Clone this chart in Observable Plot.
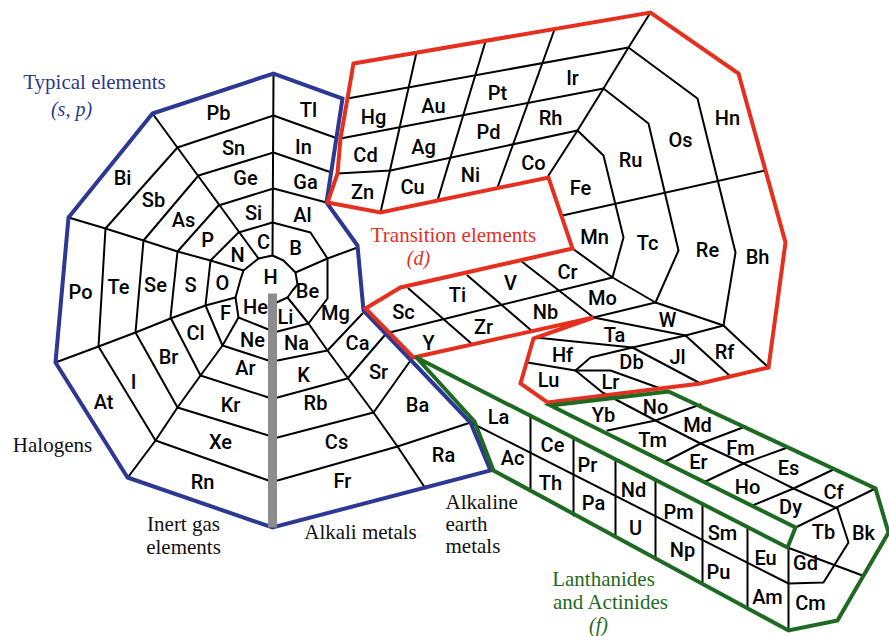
<!DOCTYPE html>
<html><head><meta charset="utf-8">
<script src="https://cdn.jsdelivr.net/npm/d3@7"></script>
<script src="https://cdn.jsdelivr.net/npm/@observablehq/plot@0.6"></script>
<style>body{margin:0;background:#fff}#chart svg{display:block}</style>
</head><body><div id="chart"></div>
<script>
// ---- element symbols and where each sits in the spiral (picture coordinates) ----
const symbols = ["H","He","Li","Be","B","C","N","O","F","Ne","Na","Mg","Al","Si","P","S","Cl","Ar","K","Ca","Ga","Ge","As","Se","Br","Kr","Rb","Sr","In","Sn","Sb","Te","I","Xe","Cs","Ba","Tl","Pb","Bi","Po","At","Rn","Fr","Ra",
"Hg","Au","Pt","Ir","Cd","Ag","Pd","Rh","Zn","Cu","Ni","Co","Fe","Ru","Os","Hn","Mn","Tc","Re","Bh","Sc","Ti","V","Cr","Y","Zr","Nb","Mo","Hf","Ta","W","Rf","Lu","Lr","Db","Jl",
"La","Ce","Pr","Nd","Pm","Sm","Eu","Gd","Tb","Dy","Ho","Er","Tm","Yb","Ac","Th","Pa","U","Np","Pu","Am","Cm","Bk","Cf","Es","Fm","Md","No"];
const symbolX = [270,255,285,307,295,263,237,222,225,252,296,335,302,253,207,190,195,245,303,357,305,245,183,155,168,230,315,378,303,233,153,118,133,220,336,417,308,218,122,80,103,202,342,443,
373,433,497,572,365,423,488,550,362,412,470,533,580,630,680,727,594,647,707,757,403,457,510,567,428,483,545,602,562,614,667,724,548,610,631,677,
498,552,587,633,678,722,765,805,823,790,747,698,652,603,512,550,593,635,682,718,767,810,863,833,788,740,697,655];
const symbolY = [277,307,317,291,248,242,255,283,313,340,343,313,215,213,240,285,333,368,375,343,182,178,220,285,357,405,403,372,147,148,200,287,382,442,442,405,110,113,178,292,402,482,481,455,
117,106,93,78,155,147,132,118,192,187,175,163,188,160,140,118,237,243,250,257,312,295,283,272,343,327,312,298,355,335,320,352,380,382,362,357,
417,445,465,490,512,533,558,563,532,507,487,462,440,415,458,483,503,528,550,572,597,603,533,492,468,448,425,407];

// ---- cell boundary polylines ----
const cellLines = [
  // typical elements: period rings
  [[276,302],[287,297],[292,290],[297,284],[295,272],[283,260],[272,255],[258,258],[243,270],[240,279],[235,297],[238,317],[268,329]],
  [[277,331],[308,323],[327,298],[327,258],[310,232],[272,222],[238,232],[210,260],[205,305],[222,345],[268,360]],
  [[277,360],[327,350],[362,313]],
  [[326,202],[273,188],[218,205],[177,251],[170,317],[200,375],[268,397]],
  [[277,397],[347,378],[384,335]],
  [[331,172],[273,152],[198,175],[143,240],[135,332],[177,407],[268,435]],
  [[277,437],[373,412],[410,360]],
  [[337,138],[273,115],[177,147],[105,228],[98,346],[155,440],[268,480]],
  [[277,480],[397,446],[470,422]],
  // typical elements: group separators
  [[272,255],[273,73]],
  [[258,258],[152,113]],
  [[243,270],[210,260],[177,251],[143,240],[105,228],[68,217]],
  [[235,297],[205,305],[170,318],[135,332],[98,346],[55,362]],
  [[238,317],[222,345],[200,375],[177,407],[155,440],[128,476]],
  [[287,297],[308,323],[327,350],[347,377],[373,412],[397,446],[425,488]],
  [[295,272],[327,258],[357,247]],
  // transition elements
  [[347,98],[628,47]],
  [[340,138],[603,88]],
  [[337,173],[390,170],[577,130]],
  [[380,212],[416,52]],
  [[437,200],[485,41]],
  [[497,187],[554,29]],
  [[548,175],[577,130],[603,88],[628,47],[650,12]],
  [[577,130],[603,155],[623,237],[612,277]],
  [[603,88],[648,123],[678,250],[655,302]],
  [[628,47],[697,98],[735,252],[723,325]],
  [[562,215],[765,170]],
  [[572,248],[612,277],[655,302],[723,325],[768,367]],
  [[389,332],[612,277]],
  [[408,288],[472,344]],
  [[467,275],[532,331]],
  [[520,260],[593,317]],
  [[593,317],[655,302]],
  [[593,317],[685,335],[723,325]],
  [[535,337],[632,347],[685,335]],
  [[575,370],[590,357],[632,347]],
  [[527,362],[575,370],[610,370],[660,388]],
  [[632,347],[700,383]],
  [[685,335],[730,376]],
  [[575,370],[602,392],[655,420],[700,443],[743,463],[793,488],[837,508]],
  // lanthanides and actinides
  [[607,430],[655,420],[700,404]],
  [[665,461],[700,443],[745,426]],
  [[705,481],[743,463],[787,447]],
  [[752,505],[793,488],[833,469]],
  [[795,527],[875,488]],
  [[837,508],[848,542],[823,582],[788,583]],
  [[787,547],[862,575]],
  [[470,422],[788,583]],
  [[530,416],[530,491]],
  [[573,438],[573,515]],
  [[615,460],[615,537]],
  [[655,480],[655,559]],
  [[702,504],[702,584]],
  [[747,527],[747,608]],
  [[788,547],[788,630]]
];

// ---- block outlines ----
const typicalOutline = [[127,477],[55,362],[68,217],[152,113],[273,73],[342,98],[326,202],[357,245],[363,310],[470,422],[490,470],[272,527],[127,477]];
const transitionOutline = [[327,202],[337,173],[340,138],[347,98],[353,63],[650,12],[738,73],[785,242],[768,367],[700,383],[547,402],[520,383],[533,338],[593,317],[413,357],[365,308],[400,287],[572,248],[548,177],[380,212],[327,202]];
const innerOutline = [[416,357],[787,547],[795,527],[550,405],[668,391],[875,488],[888,532],[837,620],[788,630],[493,470],[474,421],[416,357]];
const inertBar = [[272,293],[272,527]];

// ---- annotation texts ----
const noteText  = ["Typical elements","(s, p)","Transition elements","(d)","Lanthanides","and Actinides","(f)","Halogens","Inert gas","elements","Alkali metals","Alkaline","earth","metals"];
const noteX     = [94,71,453,418,603,610,598,52,183,183,360,445,445,445];
const noteY     = [82,109,235,258,579,602,625,445,524,547,532,502,524,546];
const noteBlock = ["typical","typical","transition","transition","inner","inner","inner","none","none","none","none","none","none","none"];
const noteItalic= [false,true,false,true,false,false,true,false,false,false,false,false,false,false];
const noteAnchor= ["middle","middle","middle","middle","middle","middle","middle","middle","middle","middle","middle","start","start","start"];

// ---- build ----
const BLUE = "#2c3891", RED = "#e5301f", GREEN = "#1e6a22";
const blockColor = {typical: BLUE, transition: RED, inner: GREEN, none: "#111"};

const elements = symbols.map((s,i)=>({s, x: symbolX[i], y: symbolY[i]}));
const lineRows = cellLines.flatMap((pts,i)=>pts.map(p=>({id:i, x:p[0], y:p[1]})));
const notes = noteText.map((t,i)=>({t, x: noteX[i], y: noteY[i], c: blockColor[noteBlock[i]], it: noteItalic[i], a: noteAnchor[i]}));

const pt = {x: d=>d[0], y: d=>d[1]};
const serif = "'Liberation Serif','Times New Roman',serif";

const chart = Plot.plot({
  width: 889, height: 636, margin: 0,
  x: {domain: [0,889], range: [0,889], axis: null},
  y: {domain: [0,636], range: [0,636], axis: null},
  color: {type: "identity"},
  style: {background: "#fff"},
  marks: [
    Plot.line(lineRows, {x:"x", y:"y", z:"id", stroke:"#000", strokeWidth:2, strokeLinejoin:"miter"}),
    Plot.line(typicalOutline, {...pt, stroke: BLUE, strokeWidth: 4, strokeLinejoin:"miter", strokeMiterlimit: 4}),
    Plot.line(transitionOutline, {...pt, stroke: RED, strokeWidth: 4, strokeLinejoin:"miter", strokeMiterlimit: 4}),
    Plot.line(innerOutline, {...pt, stroke: GREEN, strokeWidth: 4, strokeLinejoin:"miter", strokeMiterlimit: 4}),
    Plot.line(inertBar, {...pt, stroke: "#8c8c8c", strokeWidth: 9, strokeLinecap: "butt"}),
    Plot.text(elements, {x:"x", y:"y", text:"s", fontSize: 20, fontWeight: 500, fontFamily: "Roboto, 'Liberation Sans', sans-serif", fill: "#000"}),
    Plot.text(notes.filter(d=>!d.it && d.a==="middle"), {x:"x", y:"y", text:"t", fill:"c", fontSize: 21, fontFamily: serif}),
    Plot.text(notes.filter(d=>!d.it && d.a==="start"), {x:"x", y:"y", text:"t", fill:"c", fontSize: 21, fontFamily: serif, textAnchor:"start"}),
    Plot.text(notes.filter(d=>d.it), {x:"x", y:"y", text:"t", fill:"c", fontSize: 20, fontFamily: serif, fontStyle:"italic"})
  ]
});
document.getElementById("chart").appendChild(chart);
</script></body></html>
